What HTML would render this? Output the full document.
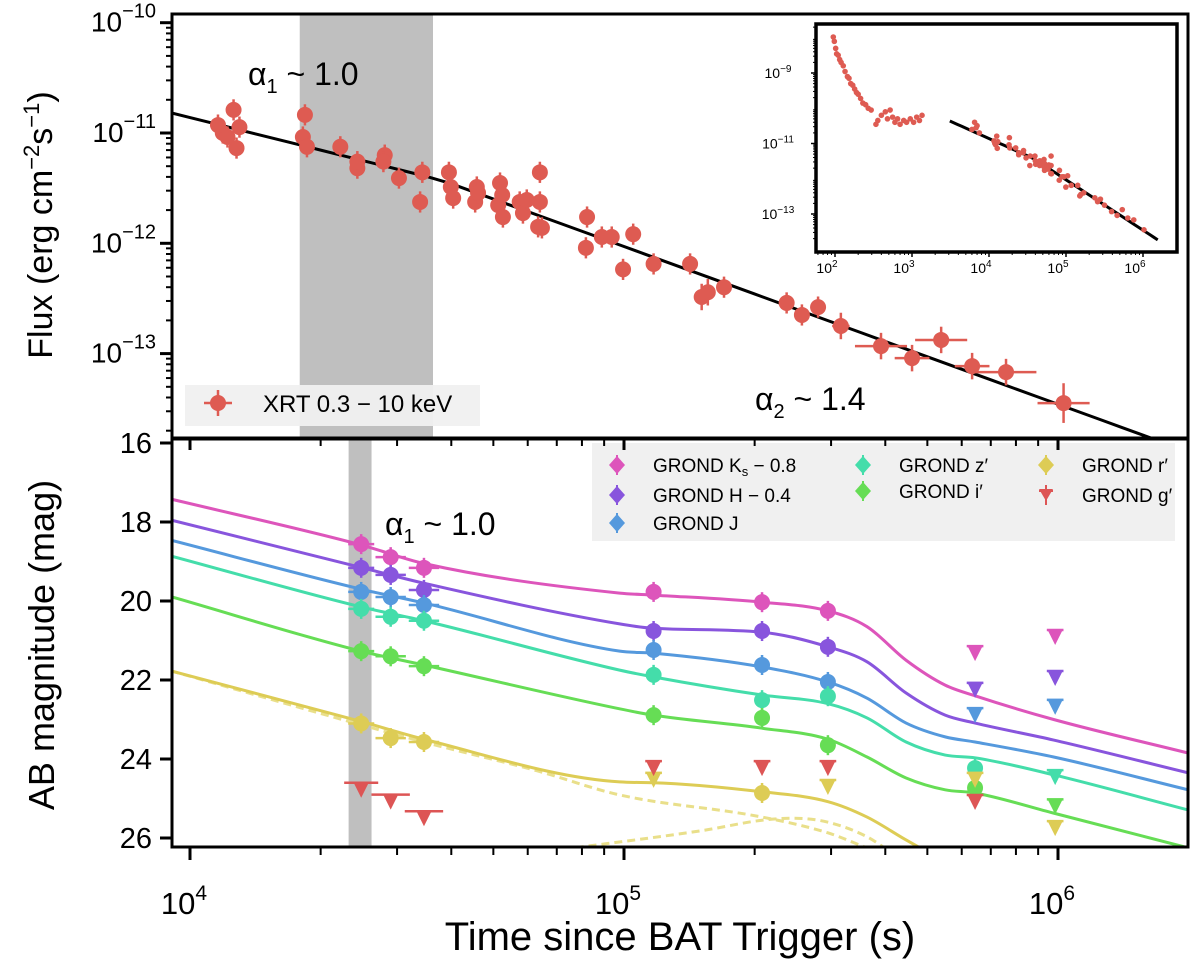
<!DOCTYPE html>
<html><head><meta charset="utf-8"><style>
html,body{margin:0;padding:0;background:#fff}
svg{display:block;font-family:"Liberation Sans","DejaVu Sans",sans-serif}
</style></head><body>
<svg id="chart" width="1200" height="966" viewBox="0 0 1200 966" xmlns="http://www.w3.org/2000/svg">
<defs>
<clipPath id="clipTop"><rect x="172" y="14" width="1016" height="424"/></clipPath>
<clipPath id="clipBot"><rect x="172" y="439" width="1016" height="408"/></clipPath>
<clipPath id="clipInset"><rect x="816" y="24" width="361" height="228"/></clipPath>
</defs>
<g id="top"></g>
<g id="bot"></g>
<g id="inset"></g>
<g id="axes"></g>
</svg>
<script>
// ---------- XRT data (top panel) ----------
const xrtTime = [1.19e4,1.26e4,1.30e4,1.28e4,1.22e4,1.16e4,1.84e4,1.82e4,1.86e4,2.22e4,2.43e4,2.43e4,2.81e4,2.79e4,3.03e4,3.43e4,3.39e4,3.95e4,3.99e4,4.04e4,4.58e4,4.54e4,4.61e4,5.18e4,5.13e4,5.26e4,5.24e4,5.75e4,5.85e4,5.97e4,6.4e4,6.4e4,6.34e4,6.47e4,8.22e4,8.17e4,8.89e4,9.37e4,1.05e5,9.95e4,1.17e5,1.42e5,1.51e5,1.56e5,1.70e5,2.37e5,2.57e5,2.8e5,3.16e5,3.91e5,4.61e5,5.38e5,6.34e5,7.59e5,1.03e6];
const xrtFlux = [1.0e-11,1.62e-11,1.13e-11,7.3e-12,9.2e-12,1.18e-11,1.46e-11,9.2e-12,7.5e-12,7.5e-12,4.8e-12,5.5e-12,6.3e-12,5.5e-12,3.9e-12,4.4e-12,2.37e-12,4.4e-12,3.24e-12,2.57e-12,3.24e-12,2.37e-12,2.86e-12,3.52e-12,2.22e-12,1.73e-12,2.74e-12,2.37e-12,1.88e-12,2.47e-12,4.4e-12,2.37e-12,1.41e-12,1.38e-12,1.73e-12,9.1e-13,1.14e-12,1.14e-12,1.21e-12,5.8e-13,6.5e-13,6.5e-13,3.26e-13,3.6e-13,4.0e-13,2.88e-13,2.24e-13,2.64e-13,1.78e-13,1.17e-13,9.1e-14,1.33e-13,7.7e-14,6.8e-14,3.56e-14];
const xrtTimeErr = [0.01,0.01,0.01,0.01,0.01,0.01,0.01,0.01,0.01,0.01,0.01,0.01,0.01,0.01,0.01,0.01,0.01,0.01,0.01,0.01,0.01,0.01,0.01,0.01,0.01,0.01,0.01,0.01,0.01,0.01,0.01,0.01,0.01,0.01,0.01,0.01,0.01,0.01,0.01,0.01,0.01,0.01,0.01,0.01,0.01,0.015,0.015,0.015,0.02,0.06,0.04,0.06,0.04,0.07,0.06];
const xrtFluxErr = [0.08,0.08,0.08,0.08,0.08,0.08,0.08,0.08,0.08,0.08,0.08,0.08,0.08,0.08,0.08,0.08,0.08,0.08,0.08,0.08,0.08,0.08,0.08,0.08,0.08,0.08,0.08,0.08,0.08,0.08,0.08,0.08,0.08,0.08,0.08,0.08,0.08,0.08,0.08,0.08,0.08,0.08,0.1,0.1,0.08,0.08,0.08,0.08,0.1,0.1,0.1,0.1,0.1,0.1,0.15];
// broken power-law fit
const fitBreakTime = 3.8e4, fitBreakFlux = 3.73e-12, fitAlpha1 = 0.98, fitAlpha2 = 1.43;
const fitStart = 3.1e3, fitEnd = 1.7e6;
// inset early data
const earlyTime = [95,98,102,105,110,115,120,128,135,145,152,160,170,180,190,200,215,230,250,270,295,340,360,400,450,480,520,560,600,650,700,780,850,950,1050,1150,1250,1350,6000,6500,6800,7000,7500];
const earlyFlux = [1.05e-8,7.9e-9,5.0e-9,3.5e-9,3.2e-9,2.4e-9,2.0e-9,1.6e-9,1.1e-9,7.9e-10,7.1e-10,5.0e-10,4.5e-10,3.5e-10,2.8e-10,2.5e-10,1.9e-10,1.4e-10,1.26e-10,1.0e-10,8.9e-11,3.5e-11,4.5e-11,6.3e-11,7.9e-11,5.0e-11,8.9e-11,5.6e-11,4.0e-11,5.0e-11,3.5e-11,4.5e-11,4.0e-11,5.0e-11,4.0e-11,5.6e-11,4.5e-11,6.3e-11,2.5e-11,4.0e-11,2.8e-11,3.2e-11,2.0e-11];

// ---------- GROND data (bottom panel) ----------
const grondTime = [24800,29000,34600,117000,208000,295000,644000,985000];
const grondTimeErr = [0.03,0.035,0.035,0.01,0.01,0.01,0.01,0.01];
const magKs = [18.56,18.89,19.16,19.77,20.03,20.25,21.32,20.91];
const limKs = [0,0,0,0,0,0,1,1];
const magH = [19.16,19.34,19.72,20.76,20.76,21.16,22.25,21.95];
const limH = [0,0,0,0,0,0,1,1];
const magJ = [19.77,19.9,20.1,21.24,21.62,22.05,22.89,22.68];
const limJ = [0,0,0,0,0,0,1,1];
const magZ = [20.2,20.4,20.5,21.87,22.51,22.41,24.23,24.46];
const limZ = [0,0,0,0,0,0,0,1];
const magI = [21.27,21.4,21.65,22.89,22.96,23.65,24.73,25.2];
const limI = [0,0,0,0,0,0,0,1];
const magR = [23.1,23.47,23.57,24.53,24.86,24.71,24.53,25.75];
const limR = [0,0,0,1,0,1,1,1];
const magG = [24.78,25.08,25.5,24.23,24.23,24.23,25.09,null];
const limG = [1,1,1,1,1,1,1,1];
// model curve knots (log10 time)
const modelLogT = [3.956,4.394,4.539,4.99,5.067,5.318,5.47,5.56,5.65,5.74,5.809,5.99,6.3];
const modelKs = [17.42,18.58,19.05,19.8,19.85,20.03,20.25,20.65,21.5,22.13,22.4,23.0,23.85];
const modelH  = [17.95,19.15,19.55,20.58,20.69,20.79,21.16,21.54,22.33,22.89,23.09,23.52,24.35];
const modelJ  = [18.46,19.7,20.05,21.27,21.32,21.67,22.05,22.46,23.09,23.44,23.57,23.95,24.78];
const modelZ  = [18.86,20.15,20.5,21.75,21.92,22.38,22.6,22.96,23.57,23.9,23.97,24.4,25.29];
const modelI  = [19.89,21.27,21.62,22.73,22.89,23.22,23.5,23.95,24.48,24.78,24.86,25.37,26.25];
const modelR  = [21.77,23.05,23.5,24.58,24.6,24.83,25.08,25.47,26.05,26.6,27.0,27.8,28.6];
const dashPLLogT = [3.956,4.539,4.8,4.99,5.318,5.47,5.56,5.7];
const dashPLMag  = [21.77,23.57,24.3,24.91,25.47,25.87,26.25,26.8];
const dashBumpLogT = [4.74,4.92,5.187,5.318,5.39,5.47,5.56,5.62];
const dashBumpMag  = [26.45,26.2,25.8,25.55,25.5,25.6,25.97,26.4];

const magTicks = [16,18,20,22,24,26];
const fluxTickExp = [-10,-11,-12,-13];
const timeTickExp = [4,5,6];
const insetXExp = [2,3,4,5,6];
const insetYExp = [-9,-11,-13];

// ---------- axis functions ----------
const NS = "http://www.w3.org/2000/svg";
const X = t => 190 + 434*(Math.log10(t)-4);
const XL = lt => 190 + 434*(lt-4);
const YF = f => 133 + 110.3*(-11-Math.log10(f));
const YM = m => 443 + 39.5*(m-16);
const IX = t => 835 + 77*(Math.log10(t)-2);
const IY = f => 73 + 35.25*(-9-Math.log10(f));

function el(parent, tag, attrs, text){
  const e = document.createElementNS(NS, tag);
  for (const k in attrs) e.setAttribute(k, attrs[k]);
  if (text!==undefined) e.textContent = text;
  parent.appendChild(e); return e;
}
const top_ = document.getElementById('top');
const bot = document.getElementById('bot');
const ins = document.getElementById('inset');
const axes = document.getElementById('axes');

// monotone cubic path
function monoPath(xs, ys){
  const n=xs.length, d=[], m=new Array(n);
  for(let i=0;i<n-1;i++) d.push((ys[i+1]-ys[i])/(xs[i+1]-xs[i]));
  m[0]=d[0]; m[n-1]=d[n-2];
  for(let i=1;i<n-1;i++){ m[i]=(d[i-1]*d[i]<=0)?0:(d[i-1]+d[i])/2; }
  for(let i=0;i<n-1;i++){ if(d[i]===0){m[i]=0;m[i+1]=0;continue;}
    const a=m[i]/d[i], b=m[i+1]/d[i], s=a*a+b*b; if(s>9){const t=3/Math.sqrt(s); m[i]=t*a*d[i]; m[i+1]=t*b*d[i];} }
  let p = `M${xs[0]},${ys[0]}`;
  for(let i=0;i<n-1;i++){ const h=xs[i+1]-xs[i];
    p += ` C${xs[i]+h/3},${ys[i]+m[i]*h/3} ${xs[i+1]-h/3},${ys[i+1]-m[i+1]*h/3} ${xs[i+1]},${ys[i+1]}`; }
  return p;
}

// ---------- TOP PANEL ----------
const tg = el(top_, 'g', {'clip-path':'url(#clipTop)'});
let e;
e = el(tg,'rect',{x:X(1.79e4),y:14,width:X(3.63e4)-X(1.79e4),height:424,fill:'#bfbfbf'});


// fit line
{
  const fAt = t => t<fitBreakTime ? fitBreakFlux*Math.pow(t/fitBreakTime,-fitAlpha1) : fitBreakFlux*Math.pow(t/fitBreakTime,-fitAlpha2);
  let pts=[]; for(let lt=3.9; lt<=6.35; lt+=0.05){ const t=Math.pow(10,lt); pts.push(X(t)+','+YF(fAt(t))); }
  e = el(tg,'polyline',{points:pts.join(' '),fill:'none',stroke:'#000','stroke-width':3});
  
  
}
const xrtColor = '#de5b52';
for(let i=0;i<xrtTime.length;i++){
  const t=xrtTime[i], f=xrtFlux[i], x=X(t), y=YF(f);
  const g = el(tg,'g',{});
  
  
  const dy = 110.3*xrtFluxErr[i]*1.2, dx = 434*xrtTimeErr[i];
  el(g,'line',{x1:x,y1:y-dy,x2:x,y2:y+dy,stroke:xrtColor,'stroke-width':2.5});
  el(g,'line',{x1:x-dx,y1:y,x2:x+dx,y2:y,stroke:xrtColor,'stroke-width':2.5});
  el(g,'circle',{cx:x,cy:y,r:8,fill:xrtColor});
}
// top legend
{
  const g = el(top_,'g',{});
  
  
  el(g,'rect',{x:185,y:385,width:295,height:41,fill:'#f0f0f0',opacity:0.95});
  el(g,'line',{x1:204,y1:403,x2:232,y2:403,stroke:xrtColor,'stroke-width':2.5});
  el(g,'line',{x1:218,y1:390,x2:218,y2:416,stroke:xrtColor,'stroke-width':2.5});
  el(g,'circle',{cx:218,cy:403,r:8,fill:xrtColor});
  e = el(g,'text',{x:263,y:412,'font-size':24,fill:'#000'},'XRT 0.3 − 10 keV');
  
  
}
// annotations
e = el(top_,'text',{x:248,y:85,'font-size':32,fill:'#000'});


e.innerHTML='α<tspan font-size="20" dy="8">1</tspan><tspan dy="-8"> ~ 1.0</tspan>';
e = el(top_,'text',{x:755,y:410,'font-size':32,fill:'#000'});


e.innerHTML='α<tspan font-size="20" dy="8">2</tspan><tspan dy="-8"> ~ 1.4</tspan>';

// ---------- BOTTOM PANEL ----------
const bg = el(bot,'g',{'clip-path':'url(#clipBot)'});
e = el(bg,'rect',{x:X(2.32e4),y:439,width:X(2.62e4)-X(2.32e4),height:408,fill:'#bfbfbf'});


const bands = [
  {name:'ks',mag:magKs,lim:limKs,model:modelKs,color:'#dd55bb'},
  {name:'h',mag:magH,lim:limH,model:modelH,color:'#8855dd'},
  {name:'j',mag:magJ,lim:limJ,model:modelJ,color:'#5599dd'},
  {name:'z',mag:magZ,lim:limZ,model:modelZ,color:'#44ddaa'},
  {name:'i',mag:magI,lim:limI,model:modelI,color:'#66dd55'},
  {name:'r',mag:magR,lim:limR,model:modelR,color:'#ddcc55'},
  {name:'g',mag:magG,lim:limG,model:null,color:'#dd5555'}
];
// dashed components
e = el(bg,'path',{d:monoPath(dashPLLogT.map(XL),dashPLMag.map(YM)),fill:'none',stroke:'#e9df8a','stroke-width':3,'stroke-dasharray':'8 5'});


e = el(bg,'path',{d:monoPath(dashBumpLogT.map(XL),dashBumpMag.map(YM)),fill:'none',stroke:'#e9df8a','stroke-width':3,'stroke-dasharray':'8 5'});


bands.forEach(b=>{
  if(!b.model) return;
  e = el(bg,'path',{d:monoPath(modelLogT.map(XL),b.model.map(YM)),fill:'none',stroke:b.color,'stroke-width':3});
  
  
});
bands.forEach(b=>{
  for(let i=0;i<grondTime.length;i++){
    const m=b.mag[i]; if(m===null) continue;
    const x=X(grondTime[i]), y=YM(m);
    const g = el(bg,'g',{});
    
    
    const dx = 434*grondTimeErr[i];
    if(b.lim[i]){
      el(g,'line',{x1:x-dx-4,y1:y-7,x2:x+dx+4,y2:y-7,stroke:b.color,'stroke-width':2.5});
      el(g,'polygon',{points:`${x-8},${y-8} ${x+8},${y-8} ${x},${y+8}`,fill:b.color});
    } else {
      el(g,'line',{x1:x-dx,y1:y,x2:x+dx,y2:y,stroke:b.color,'stroke-width':2.5});
      el(g,'line',{x1:x,y1:y-10,x2:x,y2:y+10,stroke:b.color,'stroke-width':2.5});
      el(g,'circle',{cx:x,cy:y,r:8,fill:b.color});
    }
  }
});
// bottom legend
{
  const g = el(bot,'g',{});
  
  
  el(g,'rect',{x:592,y:443,width:583,height:98,fill:'#efefef',opacity:0.95});
  const entries = [
    {c:'#dd55bb',mx:617,y:465,html:'GROND K<tspan font-size="13" dy="4">s</tspan><tspan dy="-4"> − 0.8</tspan>',k:'ks'},
    {c:'#8855dd',mx:617,y:495,html:'GROND H  − 0.4',k:'h'},
    {c:'#5599dd',mx:617,y:523,html:'GROND J',k:'j'},
    {c:'#44ddaa',mx:863,y:465,html:'GROND z′',k:'z'},
    {c:'#66dd55',mx:863,y:491,html:'GROND i′',k:'i'},
    {c:'#ddcc55',mx:1046,y:465,html:'GROND r′',k:'r'},
    {c:'#dd5555',mx:1046,y:495,html:'GROND g′',k:'g',tri:true}
  ];
  entries.forEach(en=>{
    const eg = el(g,'g',{});
    
    
    el(eg,'line',{x1:en.mx,y1:en.y-10,x2:en.mx,y2:en.y+10,stroke:en.c,'stroke-width':2});
    if(en.tri){ el(eg,'line',{x1:en.mx-7,y1:en.y-4,x2:en.mx+7,y2:en.y-4,stroke:en.c,'stroke-width':2});
      el(eg,'polygon',{points:`${en.mx-7},${en.y-6} ${en.mx+7},${en.y-6} ${en.mx},${en.y+6}`,fill:en.c}); }
    else el(eg,'polygon',{points:`${en.mx},${en.y-9} ${en.mx+8},${en.y} ${en.mx},${en.y+9} ${en.mx-8},${en.y}`,fill:en.c});
    const t = el(eg,'text',{x:en.mx+36,y:en.y+7,'font-size':19,fill:'#000'}); t.innerHTML=en.html;
  });
}
e = el(bot,'text',{x:385,y:535,'font-size':32,fill:'#000'});


e.innerHTML='α<tspan font-size="20" dy="8">1</tspan><tspan dy="-8"> ~ 1.0</tspan>';

// ---------- INSET ----------
{
  el(ins,'rect',{x:816,y:24,width:361,height:228,fill:'#fff'});
  const ig = el(ins,'g',{'clip-path':'url(#clipInset)'});
  const fAt = t => t<fitBreakTime ? fitBreakFlux*Math.pow(t/fitBreakTime,-fitAlpha1) : fitBreakFlux*Math.pow(t/fitBreakTime,-fitAlpha2);
  let pts=[]; for(let lt=Math.log10(fitStart); lt<=Math.log10(fitEnd)+0.001; lt+=0.05){ const t=Math.pow(10,lt); pts.push(IX(t)+','+IY(fAt(t))); }
  e = el(ig,'polyline',{points:pts.join(' '),fill:'none',stroke:'#000','stroke-width':3});
  
  
  const allT = earlyTime.concat(xrtTime), allF = earlyFlux.concat(xrtFlux);
  for(let i=0;i<allT.length;i++){
    e = el(ig,'circle',{cx:IX(allT[i]),cy:IY(allF[i]),r:2.8,fill:xrtColor});
    
    
  }
  e = el(ins,'rect',{x:816,y:24,width:361,height:228,fill:'none',stroke:'#000','stroke-width':3.5});
  
  
  insetXExp.forEach(k=>{
    const x=IX(Math.pow(10,k));
    el(ins,'line',{x1:x,y1:252,x2:x,y2:257,stroke:'#000','stroke-width':1.5});
    const t=el(ins,'text',{x:x-8,y:273,'font-size':14,'text-anchor':'middle'}); t.innerHTML='10<tspan font-size="10" dy="-6">'+k+'</tspan>';
    
    
    if(k<6) for(let j=2;j<10;j++){ const xm=IX(j*Math.pow(10,k)); if(xm<1177) el(ins,'line',{x1:xm,y1:252,x2:xm,y2:255,stroke:'#000','stroke-width':1}); }
  });
  for(let k=1;k<2;k++) for(let j=6;j<10;j++){ el(ins,'line',{x1:IX(j*10),y1:252,x2:IX(j*10),y2:255,stroke:'#000','stroke-width':1}); }
  insetYExp.forEach(k=>{
    const y=IY(Math.pow(10,k));
    el(ins,'line',{x1:811,y1:y,x2:816,y2:y,stroke:'#000','stroke-width':1.5});
    const t=el(ins,'text',{x:778,y:y+5,'font-size':14,'text-anchor':'middle'}); t.innerHTML='10<tspan font-size="10" dy="-6">−'+(-k)+'</tspan>';
    
    
  });
  for(let k=-14;k<=-8;k++) for(let j=2;j<10;j++){ const y=IY(j*Math.pow(10,k)); if(y>24&&y<252) el(ins,'line',{x1:813,y1:y,x2:816,y2:y,stroke:'#000','stroke-width':1}); }
}

// ---------- AXES ----------
e = el(axes,'rect',{x:172,y:14,width:1016,height:424,fill:'none',stroke:'#000','stroke-width':3});


e = el(axes,'rect',{x:172,y:439,width:1016,height:408,fill:'none',stroke:'#000','stroke-width':3});


fluxTickExp.forEach(k=>{
  const y=YF(Math.pow(10,k));
  el(axes,'line',{x1:160,y1:y,x2:172,y2:y,stroke:'#000','stroke-width':3});
  const t=el(axes,'text',{x:156,y:y+9,'font-size':28,'text-anchor':'end'});
  t.innerHTML='10<tspan font-size="20" dy="-14">−'+(-k)+'</tspan>';
  
  
});
for(let k=-14;k<=-11;k++) for(let j=2;j<10;j++){ const y=YF(j*Math.pow(10,k)); if(y>14&&y<437) el(axes,'line',{x1:166,y1:y,x2:172,y2:y,stroke:'#000','stroke-width':2}); }
magTicks.forEach(m=>{
  const y=YM(m);
  el(axes,'line',{x1:160,y1:y,x2:172,y2:y,stroke:'#000','stroke-width':3});
  const t=el(axes,'text',{x:152,y:y+10,'font-size':29,'text-anchor':'end'},String(m));
  
  
});
timeTickExp.forEach(k=>{
  const x=X(Math.pow(10,k));
  el(axes,'line',{x1:x,y1:847,x2:x,y2:860,stroke:'#000','stroke-width':3});
  el(axes,'line',{x1:x,y1:439,x2:x,y2:450,stroke:'#000','stroke-width':3});
  const t=el(axes,'text',{x:x-6,y:914,'font-size':31,'text-anchor':'middle'});
  t.innerHTML='10<tspan font-size="21" dy="-14">'+k+'</tspan>';
  
  
});
for(let k=3;k<=6;k++) for(let j=2;j<10;j++){ const x=X(j*Math.pow(10,k)); if(x>172&&x<1188){
  el(axes,'line',{x1:x,y1:847,x2:x,y2:855,stroke:'#000','stroke-width':2});
  el(axes,'line',{x1:x,y1:439,x2:x,y2:446,stroke:'#000','stroke-width':2}); } }
e = el(axes,'text',{x:680,y:950,'font-size':40,'text-anchor':'middle'},'Time since BAT Trigger (s)');


e = el(axes,'text',{x:0,y:0,'font-size':34,'text-anchor':'middle',transform:'translate(52,225) rotate(-90)'});
e.innerHTML='Flux (erg cm<tspan font-size="22" dy="-13">−2</tspan><tspan dy="13">s</tspan><tspan font-size="22" dy="-13">−1</tspan><tspan dy="13">)</tspan>';


e = el(axes,'text',{x:0,y:0,'font-size':36,'text-anchor':'middle',transform:'translate(54,645) rotate(-90)'},'AB magnitude (mag)');


</script>
</body></html>
